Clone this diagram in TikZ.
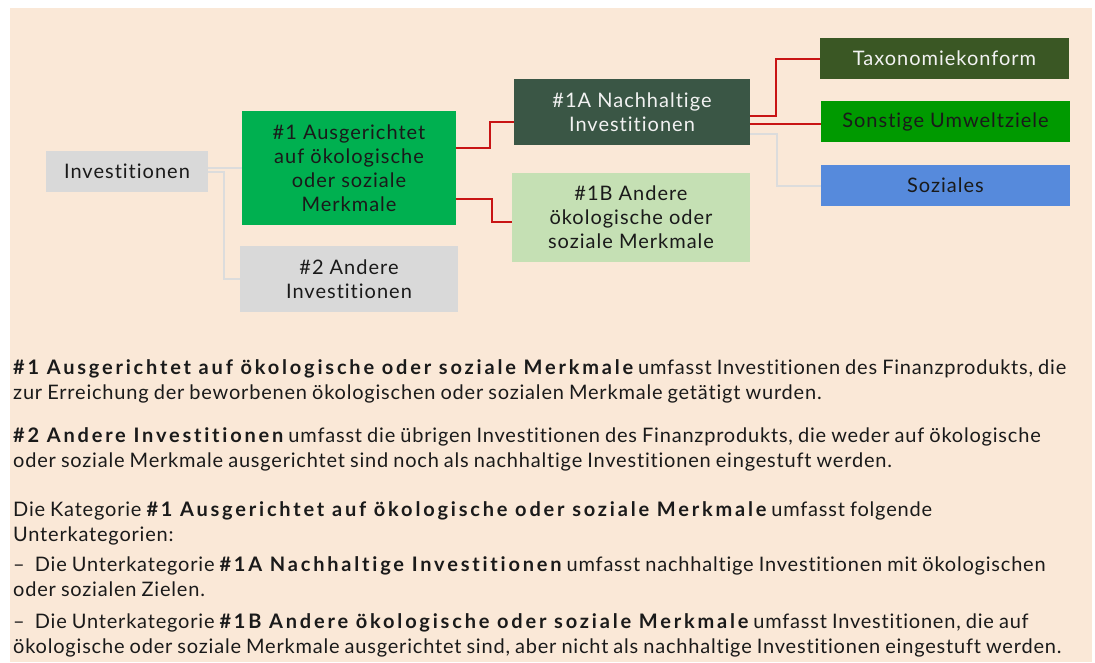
\documentclass[tikz,border=0pt]{standalone}
\usepackage{fontspec}
\setmainfont{Lato}[Ligatures=NoCommon, LetterSpace=4, WordSpace=0.85]
\newfontfamily\bsp{Lato}[Ligatures=NoCommon, LetterSpace=14]
\newfontfamily\boxfont{Lato}[Ligatures=NoCommon, LetterSpace=5]
\definecolor{peach}{HTML}{FAE8D7}
\definecolor{boxgray}{HTML}{D9D9D9}
\definecolor{lgray}{HTML}{DCDCDC}
\definecolor{green1}{HTML}{00B050}
\definecolor{dkslate}{HTML}{3A5645}
\definecolor{lgreen}{HTML}{C5E0B4}
\definecolor{dkgreen}{HTML}{3A5724}
\definecolor{mgreen}{HTML}{009A00}
\definecolor{sblue}{HTML}{568ADC}
\definecolor{cred}{HTML}{C81414}
\definecolor{txt}{HTML}{1A1A1A}
\tikzset{
  box/.style={rectangle, inner sep=0pt, align=center, text=txt,
    font=\boxfont\fontsize{20}{24}\selectfont},
  redline/.style={draw=cred, line width=1.4pt},
  grayline/.style={draw=lgray, line width=1.4pt},
  para/.style={anchor=base west, inner sep=0pt, text=txt,
    font=\fontsize{20}{25}\selectfont},
}
\begin{document}
\begin{tikzpicture}[x=1pt,y=-1pt]
\useasboundingbox (0,0) rectangle (1095,662);
\fill[white] (0,0) rectangle (1095,662);
\fill[peach] (10,8) rectangle (1092,662);
% boxes
\node[box, fill=boxgray, minimum width=162pt, minimum height=41pt] (inv) at (127,171) {Investitionen};
\node[box, fill=green1, minimum width=214pt, minimum height=114pt] (n1) at (349,168) {\#1 Ausgerichtet\\auf ökologische\\oder soziale\\Merkmale};
\node[box, fill=boxgray, minimum width=218pt, minimum height=66pt] (n2) at (349,279) {\#2 Andere\\Investitionen};
\node[box, fill=dkslate, text=white!95!black, minimum width=236pt, minimum height=66pt] (n1a) at (632,112) {\#1A Nachhaltige\\Investitionen};
\node[box, fill=lgreen, minimum width=238pt, minimum height=89pt] (n1b) at (631,217.5) {\#1B Andere\\ökologische oder\\soziale Merkmale};
\node[box, fill=dkgreen, text=white!95!black, minimum width=249pt, minimum height=41pt] (tax) at (944.5,58.5) {Taxonomiekonform};
\node[box, fill=mgreen, minimum width=249pt, minimum height=41pt] (son) at (945.5,121.5) {Sonstige Umweltziele};
\node[box, fill=sblue, minimum width=249pt, minimum height=41pt] (soz) at (945.5,185.5) {Soziales};
% connectors
\draw[grayline] (inv.east |- 0,168) -- (n1.west |- 0,168);
\draw[grayline] (inv.east |- 0,172) -- (224,172) |- (n2.west);
\draw[redline] (n1.east |- 0,148) -- (490,148) |- (n1a.west |- 0,122);
\draw[redline] (n1.east |- 0,199) -- (492,199) |- (n1b.west |- 0,222);
\draw[redline] (n1a.east |- 0,116) -- (776,116) |- (tax.west |- 0,59);
\draw[redline] (n1a.east |- 0,124) -- (son.west |- 0,124);
\draw[grayline] (n1a.east |- 0,134) -- (777,134) |- (soz.west |- 0,186);
% text
\node[para] (t1) at (13,374) {{\bsp\bfseries \#1 Ausgerichtet auf ökologische oder soziale Merkmale} umfasst Investitionen des Finanzprodukts, die};
\node[para] (t2) at (13,399) {zur Erreichung der beworbenen ökologischen oder sozialen Merkmale getätigt wurden.};
\node[para] (t3) at (13,442) {{\bsp\bfseries \#2 Andere Investitionen} umfasst die übrigen Investitionen des Finanzprodukts, die weder auf ökologische};
\node[para] (t4) at (13,467) {oder soziale Merkmale ausgerichtet sind noch als nachhaltige Investitionen eingestuft werden.};
\node[para] (t5) at (13,516) {Die Kategorie {\bsp\bfseries \#1 Ausgerichtet auf ökologische oder soziale Merkmale} umfasst folgende};
\node[para] (t6) at (13,541) {Unterkategorien:};
\node[para] (t7) at (13,571) {–\ \ Die Unterkategorie {\bsp\bfseries \#1A Nachhaltige Investitionen} umfasst nachhaltige Investitionen mit ökologischen};
\node[para] (t8) at (13,596) {oder sozialen Zielen.};
\node[para] (t9) at (13,628) {–\ \ Die Unterkategorie {\bsp\bfseries \#1B Andere ökologische oder soziale Merkmale} umfasst Investitionen, die auf};
\node[para] (t10) at (13,653) {ökologische oder soziale Merkmale ausgerichtet sind, aber nicht als nachhaltige Investitionen eingestuft werden.};
\end{tikzpicture}
\end{document}
